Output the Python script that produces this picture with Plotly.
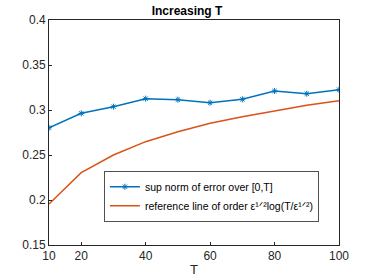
import plotly.graph_objects as go

T = [10, 20, 30, 40, 50, 60, 70, 80, 90, 100]
sup_err = [0.2803, 0.2963, 0.3037, 0.3126, 0.3115, 0.3081, 0.3119, 0.3211, 0.3181, 0.3226]
ref_line = [0.1956, 0.2304, 0.2500, 0.2648, 0.2759, 0.2852, 0.2926, 0.2993, 0.3052, 0.3104]
xticks = [10, 20, 40, 60, 80, 100]
yticks = [0.15, 0.2, 0.25, 0.3, 0.35, 0.4]
yticklabels = ["0.15", "0.2", "0.25", "0.3", "0.35", "0.4"]

FONT = "Liberation Sans, Arial, Helvetica, DejaVu Sans"

fig = go.Figure()
fig.add_trace(go.Scatter(x=T, y=sup_err, mode="lines+markers",
                         name="sup norm of error over [0,T]",
                         line=dict(color="#0072BD", width=1.5),
                         marker=dict(symbol="asterisk-open", size=5,
                                     line=dict(color="#0072BD", width=1))))
fig.add_trace(go.Scatter(x=T, y=ref_line, mode="lines",
                         name="reference line of order ε¹ᐟ²log(T/ε¹ᐟ²)",
                         line=dict(color="#D95319", width=1.5)))

axis_common = dict(showgrid=False, zeroline=False, showline=True, mirror=True,
                   linecolor="#262626", linewidth=0.8, ticks="inside", ticklen=3,
                   tickcolor="#262626", automargin=False,
                   tickfont=dict(family=FONT, size=12, color="#262626"))

fig.update_layout(
    width=374, height=280,
    margin=dict(l=49, r=35, t=20, b=35),
    paper_bgcolor="white", plot_bgcolor="white",
    title=dict(text="<b>Increasing T</b>", x=0.5, xanchor="center", y=0.961, yanchor="middle",
               font=dict(family=FONT, size=12, color="black")),
    xaxis=dict(range=[10, 100], tickvals=xticks,
               title=dict(text="T", standoff=2, font=dict(family=FONT, size=13, color="#262626")),
               **axis_common),
    yaxis=dict(range=[0.15, 0.4], tickvals=yticks, ticktext=yticklabels, **axis_common),
    legend=dict(x=0.19, y=0.327, xanchor="left", yanchor="top",
                bgcolor="white", bordercolor="#262626", borderwidth=0.8,
                font=dict(family=FONT, size=10.5, color="black"),
                tracegroupgap=0, itemwidth=30),
    showlegend=True,
)

fig.write_html("out.html", config={"displayModeBar": False},
               post_script="document.body.style.margin='0';")
